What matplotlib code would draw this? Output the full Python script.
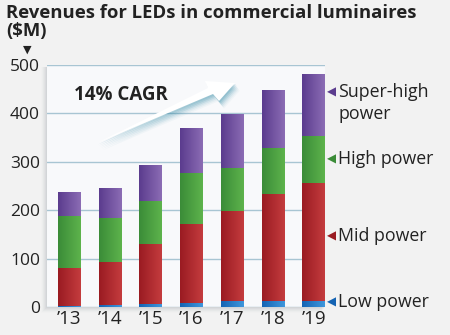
import numpy as np
import matplotlib
matplotlib.use("Agg")
import matplotlib.pyplot as plt
from matplotlib.colors import LinearSegmentedColormap
from matplotlib.patches import Polygon, Rectangle

plt.rcParams['font.family'] = ['Open Sans', 'DejaVu Sans']

years = ["\u201913", "\u201914", "\u201915", "\u201916", "\u201917", "\u201918", "\u201919"]
low_power = [3, 5, 7, 8, 12, 12, 13]
mid_power = [77, 89, 123, 163, 186, 221, 243]
high_power = [108, 89, 89, 105, 89, 95, 97]
super_high_power = [50, 62, 74, 93, 112, 120, 128]

series_names = ["Low power", "Mid power", "High power", "Super-high\npower"]
series_values = [low_power, mid_power, high_power, super_high_power]
series_dark = ["#1463b3", "#9a1b22", "#3b8c38", "#5b3c8e"]
series_light = ["#3f97dc", "#c43c3e", "#5db34c", "#8b6cb4"]

W, H = 450, 335
fig = plt.figure(figsize=(W / 100, H / 100), dpi=100)
fig.patch.set_facecolor("#f2f2f2")


def fx(px):
    return px / W


def fy(py):
    return 1 - py / H


ax_l, ax_r, ax_t, ax_b = 47, 325, 65, 307
ax = fig.add_axes([fx(ax_l), fy(ax_b), fx(ax_r - ax_l), fy(ax_t) - fy(ax_b)])

# soft drop shadow behind the plot panel
for k, a in enumerate([0.05, 0.045, 0.04, 0.03, 0.02, 0.012]):
    off = k + 1
    fig.patches.append(Rectangle((fx(ax_l - off), fy(ax_b + off)),
                                 fx(ax_r - ax_l + off * 0.3), fy(ax_t + 2) - fy(ax_b + off),
                                 transform=fig.transFigure, facecolor="#506070",
                                 edgecolor="none", alpha=a, zorder=-5))

ax.set_facecolor("#f8f9fb")
for s in ax.spines.values():
    s.set_visible(False)

x = np.arange(len(years))
width = 0.56
bottom = np.zeros(len(years))
gradient = np.linspace(0, 1, 64).reshape(1, -1)
for vals, dark, light in zip(series_values, series_dark, series_light):
    vals = np.array(vals, dtype=float)
    bars = ax.bar(x, vals, width, bottom=bottom, color=dark, edgecolor="none", zorder=3)
    cmap = LinearSegmentedColormap.from_list("g", [dark, light])
    for b in bars:
        x0, y0 = b.get_x(), b.get_y()
        im = ax.imshow(gradient, extent=[x0, x0 + b.get_width(), y0, y0 + b.get_height()],
                       aspect="auto", cmap=cmap, zorder=4, interpolation="bilinear")
        im.set_clip_path(b)
    bottom += vals

ax.set_xlim(-0.55, 6.28)
ax.set_ylim(0, 500)
ax.set_yticks([0, 100, 200, 300, 400, 500])
ax.yaxis.grid(True, color="#a8c5d3", linewidth=1.0, zorder=1)
ax.set_axisbelow(True)
ax.tick_params(axis="y", length=0, labelsize=12.5, colors="#222222", pad=5)
ax.tick_params(axis="x", length=0, labelsize=13.5, colors="#222222", pad=2)
ax.set_xticks(x)
ax.set_xticklabels(years)

# title
fig.text(fx(6), fy(4), "Revenues for LEDs in commercial luminaires\n($M)",
         fontsize=13.3, fontweight="bold", color="#222222", va="top", ha="left",
         linespacing=1.0)
fig.text(fx(27), fy(50), "\u25BC", fontsize=8, color="#222222", ha="center", va="center",
         family=["DejaVu Sans"])

# series labels on the right with pointer triangles
label_pos = [(302, "Low power"), (236, "Mid power"), (159, "High power"), (103, "Super-high\npower")]
tri_pos = [302, 236, 159, 92]
for (py, name), ty, col in zip(label_pos, tri_pos, series_dark):
    fig.text(fx(338), fy(py), name, fontsize=12.8, color="#222222", ha="left", va="center",
             linespacing=1.3)
    fig.text(fx(331), fy(ty), "\u25C0", fontsize=8.5, color=col, ha="center", va="center",
             family=["DejaVu Sans"])

# growth annotation
fig.text(fx(74), fy(95), "14% CAGR", fontsize=13.5, fontweight="bold", color="#222222",
         ha="left", va="center")


def arrow_poly(dx=0, dy=0):
    pts = [(97, 143), (208, 88), (205, 81), (235, 83), (219, 101), (213, 94)]
    return [(fx(px + dx), fy(py + dy)) for px, py in pts]


for k, a in enumerate([0.16, 0.14, 0.12, 0.09, 0.06, 0.04]):
    fig.patches.append(Polygon(arrow_poly(1 + k * 0.8, 1.5 + k * 1.2), closed=True,
                               transform=fig.transFigure, facecolor="#2a86a3",
                               edgecolor="none", alpha=a, zorder=5))
fig.patches.append(Polygon(arrow_poly(), closed=True, transform=fig.transFigure,
                           facecolor="white", edgecolor="none", zorder=6))

fig.savefig("out.png", dpi=100, facecolor=fig.get_facecolor())
